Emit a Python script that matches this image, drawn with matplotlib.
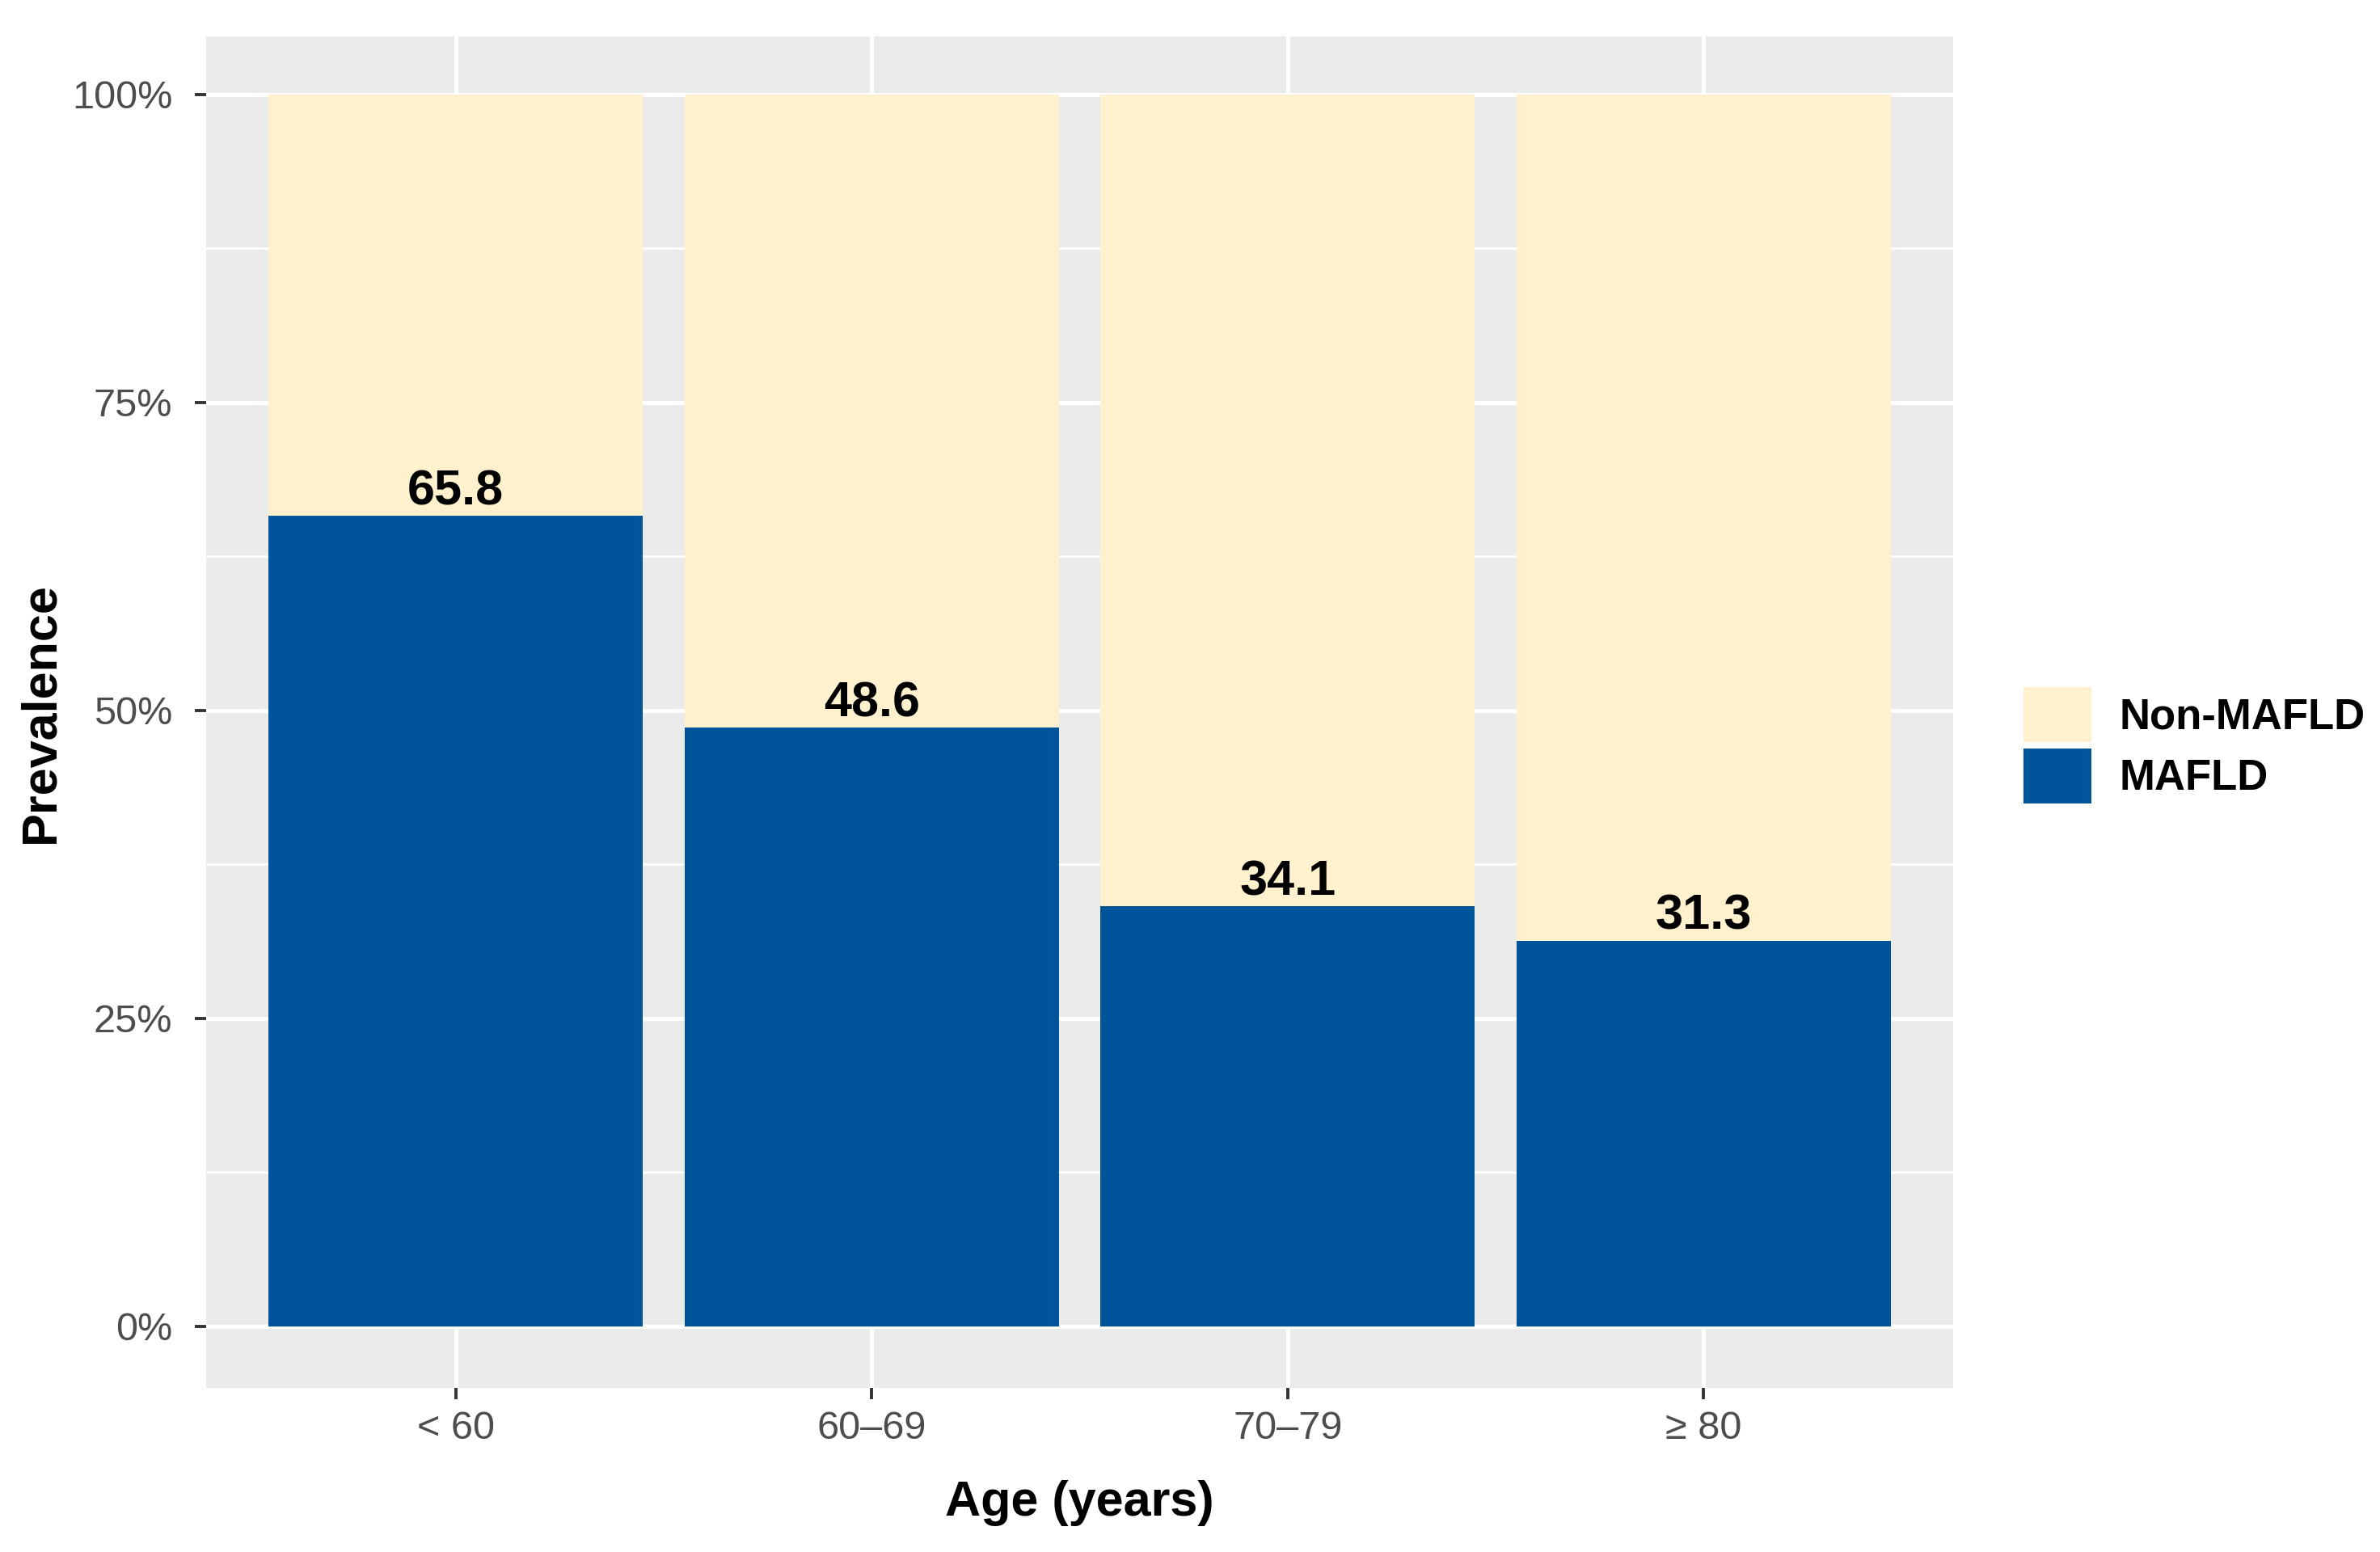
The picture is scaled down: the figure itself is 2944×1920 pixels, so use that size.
import matplotlib
matplotlib.use("Agg")
import matplotlib.pyplot as plt
from matplotlib.patches import Patch

categories = ["< 60", "60\u201369", "70\u201379", "\u2265 80"]
mafld = [65.8, 48.6, 34.1, 31.3]
non_mafld = [34.2, 51.4, 65.9, 68.7]
value_labels = ["65.8", "48.6", "34.1", "31.3"]
y_ticks = [0, 25, 50, 75, 100]
y_tick_labels = ["0%", "25%", "50%", "75%", "100%"]
y_minor = [12.5, 37.5, 62.5, 87.5]

C_MAFLD = "#00559A"
C_NON = "#FFF1CE"
PANEL = "#EBEBEB"

plt.rcParams["font.family"] = ["Liberation Sans", "DejaVu Sans"]

W, H, DPI = 2944, 1920, 200
fig = plt.figure(figsize=(W / DPI, H / DPI), dpi=DPI)
L, R, T, B = 255, 2416, 45, 1717
ax = fig.add_axes([L / W, 1 - B / H, (R - L) / W, (B - T) / H])
ax.set_facecolor(PANEL)
for s in ax.spines.values():
    s.set_visible(False)

x = list(range(len(categories)))
ax.bar(x, mafld, width=0.9, color=C_MAFLD, zorder=3)
ax.bar(x, non_mafld, width=0.9, bottom=mafld, color=C_NON, zorder=3)

for xi, v, lab in zip(x, mafld, value_labels):
    ax.annotate(lab, (xi, v), xytext=(0, 5), textcoords="offset points",
                ha="center", va="baseline", fontsize=22, fontweight="bold",
                color="black", zorder=4)

ax.set_xlim(-0.6, len(categories) - 0.4)
ax.set_ylim(-5, 104.7)
ax.set_xticks(x)
ax.set_xticklabels(categories)
ax.set_yticks(y_ticks)
ax.set_yticklabels(y_tick_labels)
ax.set_yticks(y_minor, minor=True)
ax.tick_params(axis="y", which="minor", length=0)
ax.tick_params(axis="both", which="major", length=5, width=1.4, color="#333333",
               labelcolor="#4D4D4D", labelsize=17.5)
ax.tick_params(axis="x", pad=5)
ax.tick_params(axis="y", pad=10)

ax.set_axisbelow(True)
ax.grid(True, which="major", color="white", linewidth=1.8)
ax.grid(True, which="minor", axis="y", color="white", linewidth=0.9)

fig.text(1335 / W, 1 - 1860 / H, "Age (years)", ha="center", va="center",
         fontsize=22, fontweight="bold", color="black")
fig.text(51 / W, 1 - 882 / H, "Prevalence", ha="center", va="center",
         rotation=90, fontsize=22, fontweight="bold", color="black")

handles = [Patch(facecolor=C_NON, edgecolor="none", label="Non-MAFLD"),
           Patch(facecolor=C_MAFLD, edgecolor="none", label="MAFLD")]
fig.legend(handles=handles, loc="center left", bbox_to_anchor=(2503 / W, 1 - 922 / H),
           frameon=False, borderpad=0, borderaxespad=0,
           prop={"weight": "bold", "size": 19},
           handlelength=1.6, handleheight=1.6, labelspacing=0.14, handletextpad=0.64)

fig.savefig("out.png", dpi=DPI)
